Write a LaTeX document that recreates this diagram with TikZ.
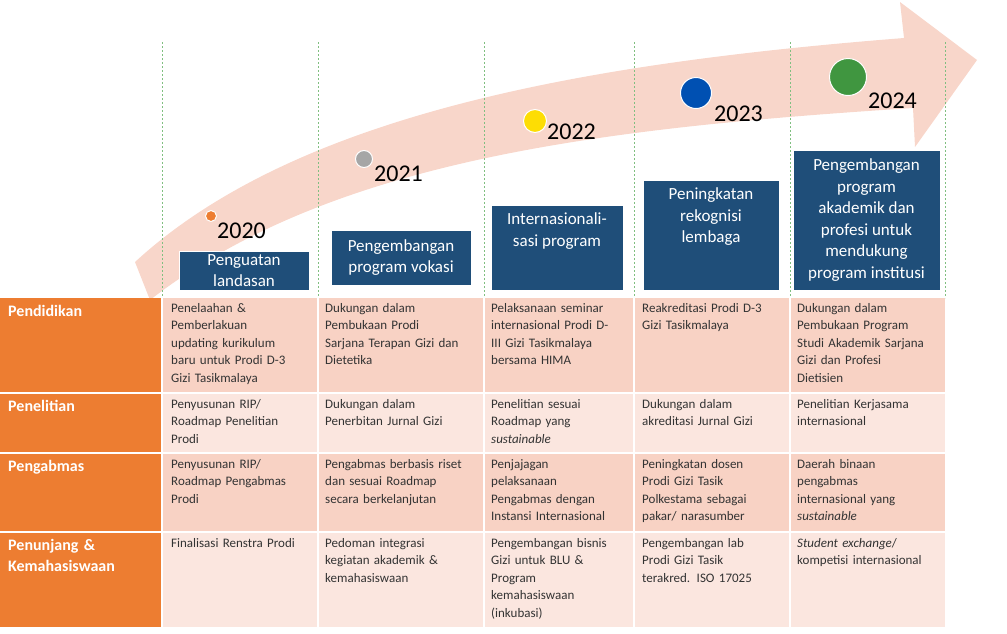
\documentclass[tikz,border=0pt]{standalone}
\usepackage{fontspec}
\setmainfont{Carlito}
\begin{document}
\begin{tikzpicture}[x=1pt,y=-1pt,
 cell/.style={anchor=north west,text width=144pt,align=left,font=\fontsize{13}{17.5}\selectfont,text=black!80,inner sep=0pt},
 lab/.style={anchor=north west,text width=150pt,align=left,font=\fontsize{16}{21}\selectfont\bfseries,text=white,inner sep=0pt},
 blue/.style={fill=bl,draw=white,line width=0.8pt,text=white,align=center,font=\fontsize{17}{21.5}\selectfont,inner sep=0pt},
 yr/.style={anchor=west,font=\fontsize{24}{26}\selectfont,inner sep=0pt},
 dot/.style={circle,draw=white,line width=1pt,inner sep=0pt}]
\definecolor{bl}{HTML}{1F4E79}
\definecolor{pk}{HTML}{F8D6CA}
\definecolor{rd}{HTML}{F8D2C4}
\definecolor{rl}{HTML}{FBE6DF}
\definecolor{og}{HTML}{ED7D31}
\useasboundingbox (0,0) rectangle (1007,633);
% arrow
\fill[pk] (135,262) .. controls (300,110) and (600,62) .. (904,38) -- (900,2) -- (977,60) -- (915,147) -- (913,108) .. controls (600,128) and (330,160) .. (150,300) -- cycle;
% dashed lines
\foreach \x in {162,318,484,634,790,945} \draw[green!50!black!50,dashed,dash pattern=on 2pt off 2pt] (\x,42) -- (\x,298);
% circles and years
\node[dot,fill=og,minimum size=11pt] (c1) at (211,216) {};
\node[dot,fill=gray!70,minimum size=17pt] (c2) at (364,159) {};
\node[dot,fill=yellow!80!orange,minimum size=23pt] (c3) at (535,121) {};
\node[dot,fill=blue!55!cyan!70!black,minimum size=31pt] (c4) at (696,93) {};
\node[dot,fill=green!45!black!75,minimum size=37pt] (c5) at (848,77) {};
\node[yr] (y1) at (217,231) {2020};
\node[yr] (y2) at (374,174) {2021};
\node[yr] (y3) at (547,132) {2022};
\node[yr] (y4) at (714,114) {2023};
\node[yr] (y5) at (868,101) {2024};
% blue boxes
\node[blue,minimum width=130pt,minimum height=39pt] (b1) at (244,270.5) {Penguatan\\landasan};
\node[blue,minimum width=140pt,minimum height=55pt] (b2) at (401,257.5) {Pengembangan\\program vokasi};
\node[blue,minimum width=132pt,minimum height=85pt] (b3) at (557,247.5) {Internasionali-\\sasi program\\[14pt]};
\node[blue,minimum width=136pt,minimum height=110pt] (b4) at (711,235) {Peningkatan\\rekognisi\\lembaga\\[18pt]};
\node[blue,minimum width=147pt,minimum height=140pt] (b5) at (866.5,220) {Pengembangan\\program\\akademik dan\\profesi untuk\\mendukung\\program institusi};
% table
\fill[rd] (162,298) rectangle (945,393);
\fill[rl] (162,393) rectangle (945,453);
\fill[rd] (162,453) rectangle (945,532);
\fill[rl] (162,532) rectangle (945,627);
\fill[og] (0,298) rectangle (162,627);
\foreach \y in {393,453,532} \draw[white,line width=1.5pt] (0,\y) -- (945,\y);
\foreach \x in {162,318,484,634,790} \draw[white,line width=1.5pt] (\x,298) -- (\x,627);
\node[lab] (l1) at (8,305) {Pendidikan};
\node[lab] (l2) at (8,400) {Penelitian};
\node[lab] (l3) at (8,460) {Pengabmas};
\node[lab] (l4) at (8,539) {Penunjang \&\\Kemahasiswaan};
% row1
\node[cell] (a1) at (171,303) {Penelaahan \&\\Pemberlakuan\\updating kurikulum\\baru untuk Prodi D-3\\Gizi Tasikmalaya};
\node[cell] (a2) at (325,303) {Dukungan dalam\\Pembukaan Prodi\\Sarjana Terapan Gizi dan\\Dietetika};
\node[cell] (a3) at (491,303) {Pelaksanaan seminar\\internasional Prodi D-\\III Gizi Tasikmalaya\\bersama HIMA};
\node[cell] (a4) at (642,303) {Reakreditasi Prodi D-3\\Gizi Tasikmalaya};
\node[cell] (a5) at (797,303) {Dukungan dalam\\Pembukaan Program\\Studi Akademik Sarjana\\Gizi dan Profesi\\Dietisien};
% row2
\node[cell] (b21) at (171,399) {Penyusunan RIP/\\Roadmap Penelitian\\Prodi};
\node[cell] (b22) at (325,399) {Dukungan dalam\\Penerbitan Jurnal Gizi};
\node[cell] (b23) at (491,399) {Penelitian sesuai\\Roadmap yang\\\textit{sustainable}};
\node[cell] (b24) at (642,399) {Dukungan dalam\\akreditasi Jurnal Gizi};
\node[cell] (b25) at (797,399) {Penelitian Kerjasama\\internasional};
% row3
\node[cell] (c31) at (171,459) {Penyusunan RIP/\\Roadmap Pengabmas\\Prodi};
\node[cell] (c32) at (325,459) {Pengabmas berbasis riset\\dan sesuai Roadmap\\secara berkelanjutan};
\node[cell] (c33) at (491,459) {Penjajagan\\pelaksanaan\\Pengabmas dengan\\Instansi Internasional};
\node[cell] (c34) at (642,459) {Peningkatan dosen\\Prodi Gizi Tasik\\Polkestama sebagai\\pakar/ narasumber};
\node[cell] (c35) at (797,459) {Daerah binaan\\pengabmas\\internasional yang\\\textit{sustainable}};
% row4
\node[cell] (d41) at (171,538) {Finalisasi Renstra Prodi};
\node[cell] (d42) at (325,538) {Pedoman integrasi\\kegiatan akademik \&\\kemahasiswaan};
\node[cell] (d43) at (491,538) {Pengembangan bisnis\\Gizi untuk BLU \&\\Program\\kemahasiswaan\\(inkubasi)};
\node[cell] (d44) at (642,538) {Pengembangan lab\\Prodi Gizi Tasik\\terakred. ISO 17025};
\node[cell] (d45) at (797,538) {\textit{Student exchange}/\\kompetisi internasional};
\end{tikzpicture}
\end{document}
